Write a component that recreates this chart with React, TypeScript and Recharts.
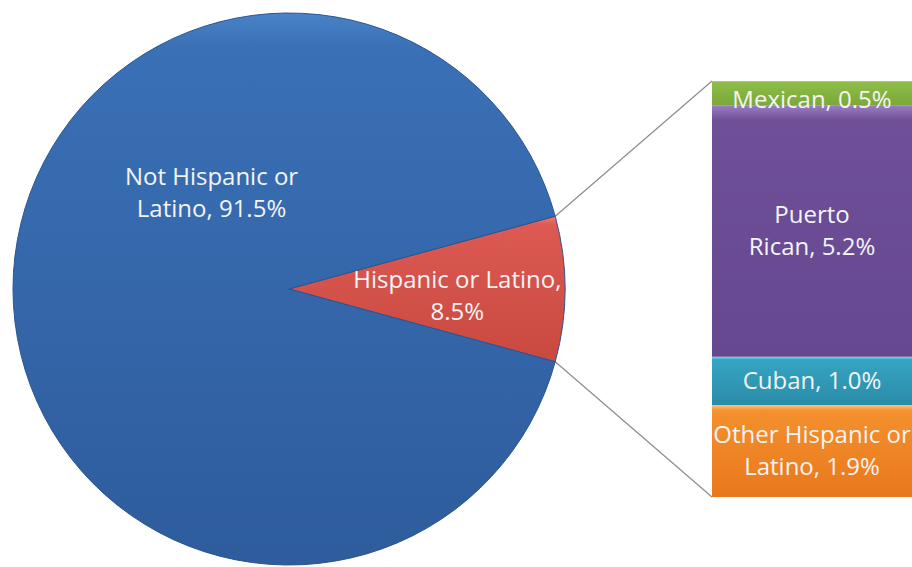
import React from "react";
import { PieChart, Pie, Cell, BarChart, Bar, XAxis, YAxis, LabelList } from "recharts";

// ---------------------------------------------------------------------------
// Hispanic origin breakdown: pie of the total + stacked "bar of pie" detail
// ---------------------------------------------------------------------------

const ORIGIN_NAMES = ["Hispanic or Latino", "Not Hispanic or Latino"];
const ORIGIN_SHARES = [8.5, 91.5];

// stacked bottom -> top
const SUBGROUP_KEYS = ["other", "cuban", "puertoRican", "mexican"];
const SUBGROUP_NAMES = ["Other Hispanic or Latino", "Cuban", "Puerto Rican", "Mexican"];
const SUBGROUP_SHARES = [1.9, 1.0, 5.2, 0.5];

const W = 912;
const H = 567;
const PIE_CX = 289;
const PIE_CY = 289;
const PIE_R = 276;
const BAR_LEFT = 712;
const BAR_TOP = 81;
const BAR_W = 200;
const BAR_H = 416;

const FONT = "'Open Sans', sans-serif";
const TEXT_FILL = "#f4f4f4";

const ORIGIN_FILLS = ["url(#gRed)", "url(#gBlue)"];
const SUBGROUP_FILLS = ["url(#gOrange)", "url(#gCyan)", "url(#gPurple)", "url(#gGreen)"];

// words on the first line of each label (0 = single line)
const ORIGIN_BREAKS = [3, 3];
const SUBGROUP_BREAKS = [3, 0, 1, 0];

function labelLines(name: string, value: number, breakAt: number): string[] {
  const words = `${name}, ${value.toFixed(1)}%`.split(" ");
  if (!breakAt) return [words.join(" ")];
  return [words.slice(0, breakAt).join(" "), words.slice(breakAt).join(" ")];
}

function MultiLine({ x, y, lines }: { x: number; y: number; lines: string[] }) {
  const lh = 32;
  return (
    <text x={x} y={y} textAnchor="middle" fill={TEXT_FILL} fontSize={24} fontFamily={FONT}>
      {lines.map((l, i) => (
        <tspan key={i} x={x} dy={i === 0 ? -((lines.length - 1) / 2) * lh + 8 : lh}>
          {l}
        </tspan>
      ))}
    </text>
  );
}

function Gradients() {
  const stops = (top: string, mid: string, bottom: string) => (
    <>
      <stop offset="0%" stopColor={top} />
      <stop offset="6%" stopColor={mid} />
      <stop offset="100%" stopColor={bottom} />
    </>
  );
  return (
    <defs>
      <linearGradient id="gBlue" x1="0" y1="0" x2="0" y2="1">
        {stops("#4a83c8", "#3a70b6", "#2e5c9c")}
      </linearGradient>
      <linearGradient id="gRed" x1="0" y1="0" x2="0" y2="1">
        {stops("#f07a72", "#dc5a53", "#c9483f")}
      </linearGradient>
      <linearGradient id="gGreen" x1="0" y1="0" x2="0" y2="1">
        {stops("#b5dc6a", "#8fbd48", "#7aa83a")}
      </linearGradient>
      <linearGradient id="gPurple" x1="0" y1="0" x2="0" y2="1">
        {stops("#9b7fc4", "#6e4f98", "#664890")}
      </linearGradient>
      <linearGradient id="gCyan" x1="0" y1="0" x2="0" y2="1">
        {stops("#6fe0f5", "#35a5c3", "#2a8ba8")}
      </linearGradient>
      <linearGradient id="gOrange" x1="0" y1="0" x2="0" y2="1">
        {stops("#ffc27a", "#f4902e", "#e9781c")}
      </linearGradient>
    </defs>
  );
}

export default function App() {
  const pieData = ORIGIN_NAMES.map((name, i) => ({ name, value: ORIGIN_SHARES[i] }));
  const barRow: Record<string, number | string> = { name: "Hispanic or Latino" };
  SUBGROUP_KEYS.forEach((k, i) => (barRow[k] = SUBGROUP_SHARES[i]));
  const barTotal = SUBGROUP_SHARES.reduce((a, b) => a + b, 0);

  // the highlighted slice is centred on 3 o'clock
  const half = (ORIGIN_SHARES[0] / 100) * 180;
  const rad = (half * Math.PI) / 180;
  const edgeX = PIE_CX + PIE_R * Math.cos(rad);
  const edgeTopY = PIE_CY - PIE_R * Math.sin(rad);
  const edgeBotY = PIE_CY + PIE_R * Math.sin(rad);

  const renderPieLabel = (p: any) => {
    const placement = [
      { angle: p.midAngle, r: 0.61 },
      { angle: 129, r: 0.446 },
    ][p.index];
    const a = (placement.angle * Math.PI) / 180;
    const x = p.cx + p.outerRadius * placement.r * Math.cos(a);
    const y = p.cy - p.outerRadius * placement.r * Math.sin(a) + (p.index === 0 ? 7 : 0);
    return (
      <MultiLine
        key={p.index}
        x={x}
        y={y}
        lines={labelLines(ORIGIN_NAMES[p.index], ORIGIN_SHARES[p.index], ORIGIN_BREAKS[p.index])}
      />
    );
  };

  const barLabel = (i: number) => (p: any) => {
    const x = Number(p.x) + Number(p.width) / 2;
    // the thin top segment's label sits a little low, spilling into the next band
    const y = Number(p.y) + Number(p.height) / 2 + (i === 3 ? 7 : 0);
    return (
      <MultiLine x={x} y={y} lines={labelLines(SUBGROUP_NAMES[i], SUBGROUP_SHARES[i], SUBGROUP_BREAKS[i])} />
    );
  };

  return (
    <div style={{ position: "absolute", left: 0, top: 0, width: W, height: H, background: "#fff", overflow: "hidden" }}>
      <svg width={W} height={H} style={{ position: "absolute", left: 0, top: 0 }}>
        <line x1={edgeX} y1={edgeTopY} x2={BAR_LEFT} y2={BAR_TOP} stroke="#8c8c8c" strokeWidth={1.2} />
        <line x1={edgeX} y1={edgeBotY} x2={BAR_LEFT} y2={BAR_TOP + BAR_H} stroke="#8c8c8c" strokeWidth={1.2} />
      </svg>

      <div style={{ position: "absolute", left: 0, top: 0 }}>
        <PieChart width={600} height={H} margin={{ top: 0, right: 0, bottom: 0, left: 0 }}>
          <Gradients />
          <Pie
            data={pieData}
            dataKey="value"
            nameKey="name"
            cx={PIE_CX}
            cy={PIE_CY}
            outerRadius={PIE_R}
            startAngle={-half}
            endAngle={360 - half}
            stroke="#2a5590"
            strokeWidth={1}
            label={renderPieLabel}
            labelLine={false}
            isAnimationActive={false}
          >
            {pieData.map((d, i) => (
              <Cell key={d.name} fill={ORIGIN_FILLS[i]} />
            ))}
          </Pie>
        </PieChart>
      </div>

      <div style={{ position: "absolute", left: BAR_LEFT, top: BAR_TOP }}>
        <BarChart
          width={BAR_W}
          height={BAR_H}
          data={[barRow]}
          margin={{ top: 0, right: 0, bottom: 0, left: 0 }}
          barCategoryGap={0}
        >
          <Gradients />
          <XAxis dataKey="name" hide />
          <YAxis hide domain={[0, barTotal]} />
          {SUBGROUP_KEYS.map((k, i) => (
            <Bar key={k} dataKey={k} stackId="hisp" fill={SUBGROUP_FILLS[i]} isAnimationActive={false}>
              <LabelList dataKey={k} content={barLabel(i)} />
            </Bar>
          ))}
        </BarChart>
      </div>
    </div>
  );
}
